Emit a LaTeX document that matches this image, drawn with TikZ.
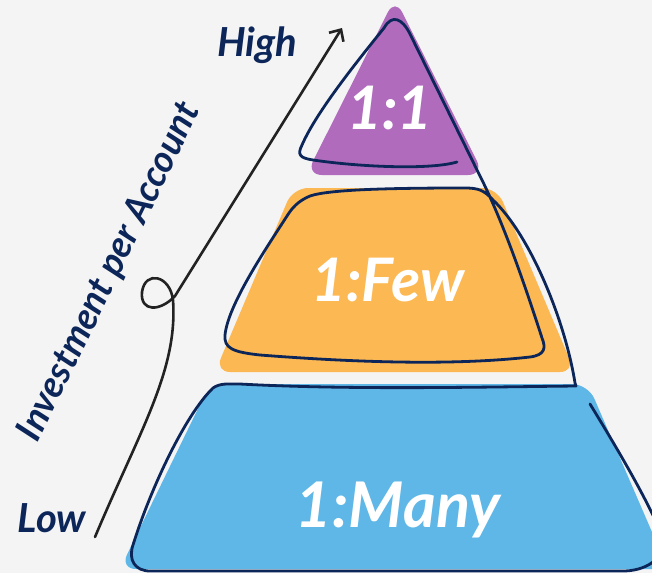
\documentclass[tikz,border=0pt]{standalone}
\usepackage{fontspec}
\setmainfont{Lato}
\usetikzlibrary{arrows.meta}

\definecolor{paper}{HTML}{F4F4F4}
\definecolor{tierpurple}{HTML}{B06BBD}
\definecolor{tierorange}{HTML}{FCB852}
\definecolor{tierblue}{HTML}{5EB7E6}
\definecolor{ink}{HTML}{0C2659}
\definecolor{pencil}{HTML}{222222}

\begin{document}
\begin{tikzpicture}[x=1pt,y=-1pt,
  sketch/.style={draw=ink,line width=2.8pt,line cap=round,line join=round},
  tierlabel/.style={text=white,font=\bfseries\itshape\fontsize{60}{60}\selectfont},
  axislabel/.style={text=ink,font=\bfseries\itshape\fontsize{40}{40}\selectfont}]
\fill[paper] (0,0) rectangle (652,573);
\clip (0,0) rectangle (652,573);

% Tier fills
\fill[tierpurple,rounded corners=16pt] (395,-2) -- (484,175) -- (306,175) -- cycle;
\fill[tierorange,rounded corners=15pt] (293,188) -- (497,188) -- (575,372) -- (215,372) -- cycle;
\fill[tierblue,rounded corners=16pt] (210,384) -- (588,384) -- (668,569) -- (120,569) -- cycle;

% One-stroke outline of the pyramid
\draw[sketch] (590,404) .. controls (615,445) and (645,495) .. (662,535)
  .. controls (668,555) and (650,570) .. (625,571) -- (150,571)
  .. controls (135,571) and (128,560) .. (133,545)
  .. controls (150,490) and (185,415) .. (213,388)
  .. controls (220,383) and (228,384) .. (240,384)
  .. controls (350,390) and (480,387) .. (576,386) -- (575,383)
  .. controls (565,320) and (530,235) .. (493,200)
  .. controls (484,190) and (478,188) .. (465,188)
  .. controls (400,188) and (330,189) .. (310,196)
  .. controls (298,201) and (292,208) .. (287,216)
  .. controls (265,250) and (228,305) .. (225,335)
  .. controls (224,348) and (232,352) .. (260,355)
  .. controls (350,362) and (450,366) .. (530,357)
  .. controls (545,355) and (546,348) .. (542,338)
  .. controls (520,270) and (500,215) .. (478,172) -- (410,34)
  .. controls (402,18) and (392,14) .. (384,28)
  .. controls (350,70) and (315,115) .. (302,145)
  .. controls (297,155) and (300,158) .. (313,160)
  .. controls (360,167) and (430,170) .. (457,162);

% Investment axis with its loop
\draw[pencil,line width=2.6pt,line cap=round,-{Straight Barb[length=9pt,width=17pt]}]
  (95,537) .. controls (140,430) and (178,370) .. (173,300)
  .. controls (170,275) and (145,270) .. (142,292)
  .. controls (140,312) and (160,312) .. (175,296) -- (342,28);

% Labels
\node[tierlabel] (one) at (390,108) {1:1};
\node[tierlabel] (few) at (388,280) {1:Few};
\node[tierlabel,font=\bfseries\itshape\fontsize{63}{63}\selectfont] (many) at (398,510) {1:Many};
\node[axislabel] (high) at (257,45) {High};
\node[axislabel] (low) at (52,518) {Low};
\node[axislabel,font=\bfseries\itshape\fontsize{37}{37}\selectfont,rotate=64] (axis) at (110,272) {Investment per Account};
\end{tikzpicture}
\end{document}
